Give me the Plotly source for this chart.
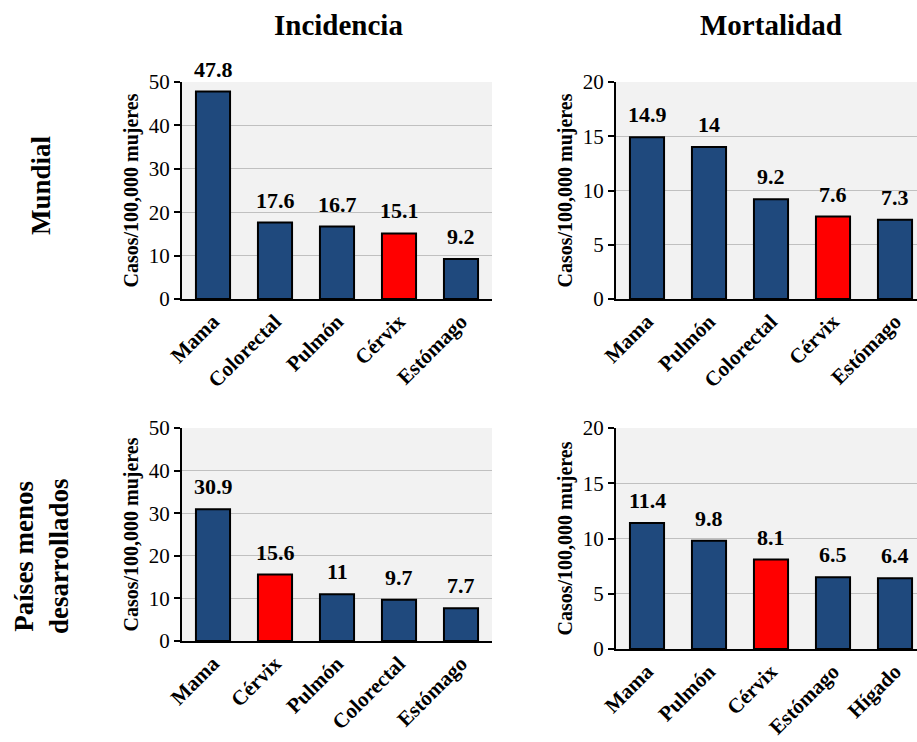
import plotly.graph_objects as go

# ---- data ----
inc_mundial_cats = ["Mama", "Colorectal", "Pulmón", "Cérvix", "Estómago"]
inc_mundial_vals = [47.8, 17.6, 16.7, 15.1, 9.2]

mort_mundial_cats = ["Mama", "Pulmón", "Colorectal", "Cérvix", "Estómago"]
mort_mundial_vals = [14.9, 14, 9.2, 7.6, 7.3]

inc_menos_cats = ["Mama", "Cérvix", "Pulmón", "Colorectal", "Estómago"]
inc_menos_vals = [30.9, 15.6, 11, 9.7, 7.7]

mort_menos_cats = ["Mama", "Pulmón", "Cérvix", "Estómago", "Hígado"]
mort_menos_vals = [11.4, 9.8, 8.1, 6.5, 6.4]

col_titles = ["Incidencia", "Mortalidad"]
row_titles = ["Mundial", "Países menos<br>desarrollados"]
y_title = "Casos/100,000 mujeres"
highlight = "Cérvix"

W, H = 917, 742
FONT = "'Liberation Serif', 'Times New Roman', Times, 'DejaVu Serif', serif"
NAVY = "#1f497d"
RED = "#ff0000"

def px_x(a, b):
    return [a / W, b / W]

def px_y(top, bottom):
    return [1 - bottom / H, 1 - top / H]

# right-hand panels are cut by the image edge: show ~4.85 category slots
right_range = [-0.5, -0.5 + (917 - 616) / 62.0]

panels = [
    (inc_mundial_cats, inc_mundial_vals, "x", "y", px_x(182, 492), px_y(82, 299), 50, 10, [-0.5, 4.5]),
    (mort_mundial_cats, mort_mundial_vals, "x2", "y2", px_x(616, 917), px_y(82, 299), 20, 5, right_range),
    (inc_menos_cats, inc_menos_vals, "x3", "y3", px_x(182, 492), px_y(428, 641), 50, 10, [-0.5, 4.5]),
    (mort_menos_cats, mort_menos_vals, "x4", "y4", px_x(616, 917), px_y(428, 649), 20, 5, right_range),
]

fig = go.Figure()
annotations = []
layout_axes = {}
for i, (cats, vals, xa, ya, xd, yd, ymax, dtick, xr) in enumerate(panels):
    colors = [RED if c == highlight else NAVY for c in cats]
    fig.add_trace(go.Bar(
        x=cats, y=vals, xaxis=xa, yaxis=ya,
        marker=dict(color=colors, line=dict(color="black", width=2)),
        showlegend=False, hoverinfo="x+y",
    ))
    for c, v in zip(cats, vals):
        annotations.append(dict(
            x=c, y=v, xref=xa, yref=ya, text=f"<b>{v:g}</b>",
            showarrow=False, yanchor="bottom", yshift=8,
            font=dict(family=FONT, size=22, color="black"),
        ))
    xkey = "xaxis" if i == 0 else f"xaxis{i+1}"
    ykey = "yaxis" if i == 0 else f"yaxis{i+1}"
    layout_axes[xkey] = dict(
        domain=xd, anchor=ya, range=xr, showline=True, linecolor="black", linewidth=2,
        ticks="", tickangle=-45, showgrid=False,
        tickfont=dict(family=FONT, size=21, color="black", weight="bold"),
        automargin=False,
    )
    layout_axes[ykey] = dict(
        domain=yd, anchor=xa, range=[0, ymax], dtick=dtick,
        showline=True, linecolor="black", linewidth=2,
        ticks="outside", ticklen=6, tickcolor="black", tickwidth=1.5,
        showgrid=True, gridcolor="#c0c0c0", gridwidth=1, zeroline=False,
        tickfont=dict(family=FONT, size=21, color="black"),
        title=dict(text=f"<b>{y_title}</b>", standoff=5,
                   font=dict(family=FONT, size=20, color="black")),
        automargin=False,
    )

# column titles
for t, xc in zip(col_titles, [338, 771]):
    annotations.append(dict(
        x=xc / W, y=1 - 25 / H, xref="paper", yref="paper",
        text=f"<b>{t}</b>", showarrow=False, xanchor="center", yanchor="middle",
        font=dict(family=FONT, size=29, color="black"),
    ))
# row titles
for t, yc in zip(row_titles, [185, 556]):
    annotations.append(dict(
        x=41 / W, y=1 - yc / H, xref="paper", yref="paper",
        text=f"<b>{t}</b>", showarrow=False, xanchor="center", yanchor="middle",
        textangle=-90,
        font=dict(family=FONT, size=27, color="black"),
    ))

fig.update_layout(
    width=W, height=H,
    margin=dict(l=0, r=0, t=0, b=0),
    paper_bgcolor="white", plot_bgcolor="#f2f2f2",
    bargap=0.45,
    font=dict(family=FONT),
    annotations=annotations,
    **layout_axes,
)

fig.write_html("out.html", config={"displayModeBar": False},
               post_script="document.body.style.margin='0';")
